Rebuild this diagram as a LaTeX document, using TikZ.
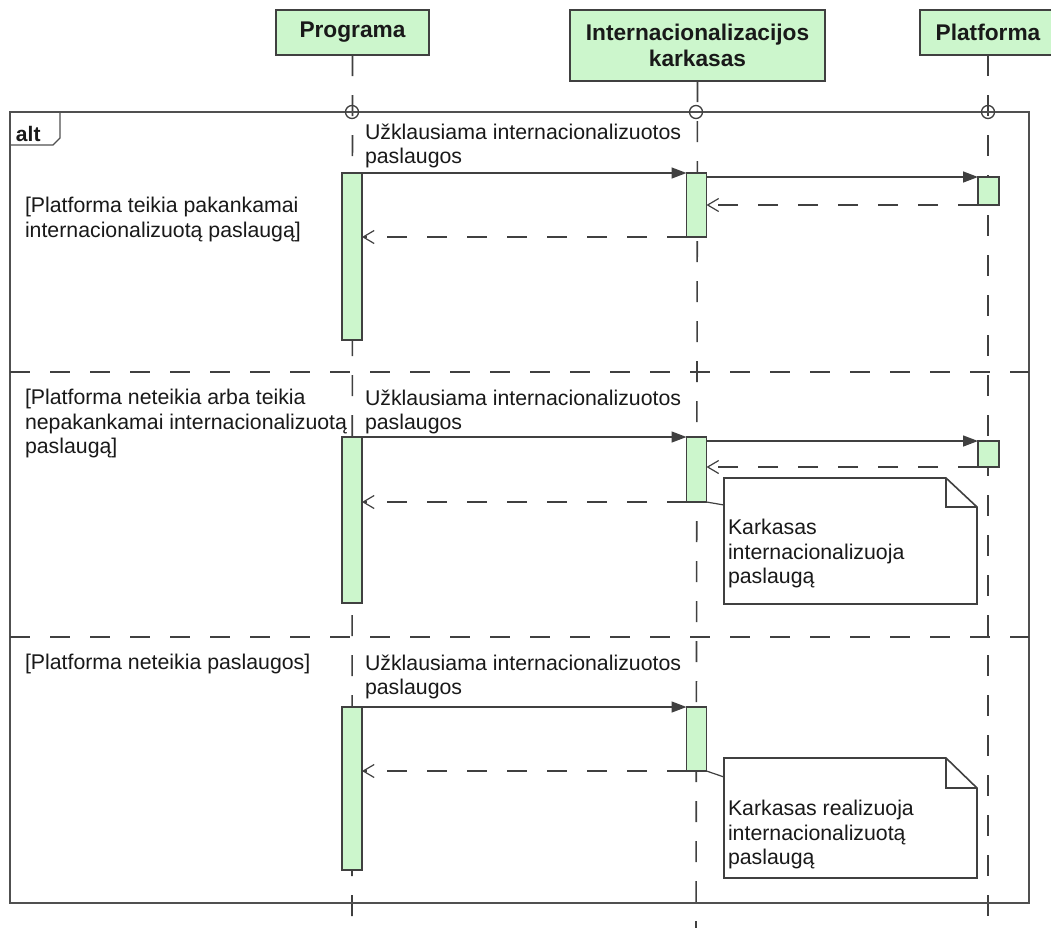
\documentclass[tikz,border=0pt]{standalone}
\usepackage{fontspec}
\setmainfont{Liberation Sans}
\usetikzlibrary{arrows.meta}
\definecolor{actgreen}{RGB}{204,246,204}
\definecolor{linegray}{RGB}{64,64,64}
\definecolor{framegray}{RGB}{80,80,80}
\definecolor{inkgray}{RGB}{25,25,25}

\begin{document}
\begin{tikzpicture}[x=1pt,y=-1pt,
  every node/.style={inner sep=0pt, outer sep=0pt},
  txt/.style={font=\fontsize{21.3}{24.3}\selectfont, align=left, anchor=north west, text=inkgray},
  head/.style={draw=linegray, line width=1.6pt, fill=actgreen,
    font=\fontsize{22.7}{26}\selectfont\bfseries, align=center, text=inkgray},
  act/.style={draw=linegray, line width=1.6pt, fill=actgreen, minimum width=20pt},
  life/.style={draw=linegray, line width=1.6pt, dash pattern=on 21pt off 19pt},
  gate/.style={circle, draw=linegray, line width=1.3pt, minimum size=13pt},
  framebox/.style={draw=framegray, line width=2pt},
  divider/.style={draw=linegray, line width=1.6pt, dash pattern=on 20pt off 20pt},
  call/.style={draw=linegray, line width=1.4pt, -{Triangle[length=15pt,width=11pt]}},
  reply/.style={draw=linegray, line width=1.4pt, dash pattern=on 20pt off 20pt,
    -{Straight Barb[length=11pt,width=13pt,line width=1.2pt]}},
  notebox/.style={draw=linegray, line width=1.6pt, fill=white},
  notelink/.style={draw=linegray, line width=1.2pt},
  noteholder/.style={minimum width=253pt}
]
\useasboundingbox[fill=white] (0,0) rectangle (1051,927);

% participants
\node[head, minimum width=153pt, minimum height=45pt] (prog) at (352.5,32.5) {Programa};
\node[head, minimum width=255pt, minimum height=71pt] (intl) at (697.5,45.5) {Internacionalizacijos\\karkasas};
\node[head, minimum width=136pt, minimum height=45pt] (plat) at (988,32.5) {Platforma};

% lifelines
\coordinate (progEnd) at (352,930);
\coordinate (intlEnd) at (696,930);
\coordinate (platEnd) at (988,930);
\draw[life] (prog.south) -- (progEnd);
\draw[life] (intl.south) -- (intlEnd);
\draw[life] (plat.south) -- (platEnd);

% combined fragment
\node[framebox, minimum width=1019pt, minimum height=791pt] (altframe) at (519.5,507.5) {};
\draw[draw=framegray, line width=1.2pt] (altframe.north west) -- ++(50,0) -- ++(0,26) -- ++(-7,7) -- ++(-43,0);
\node[font=\fontsize{21}{24}\selectfont\bfseries, anchor=base west, text=inkgray] (altlabel) at (16,141) {alt};
\node[gate] (g1) at (352,112) {};
\node[gate] (g2) at (696,112) {};
\node[gate] (g3) at (988,112) {};
\draw[divider] (altframe.west |- 0,372) -- (altframe.east |- 0,372);
\draw[divider] (altframe.west |- 0,637) -- (altframe.east |- 0,637);

% guards
\node[txt] (guard1) at (25,197.5) {[Platforma teikia pakankamai\\internacionalizuotą paslaugą]};
\node[txt] (guard2) at (25,389.5) {[Platforma neteikia arba teikia\\nepakankamai internacionalizuotą\\paslaugą]};
\node[txt] (guard3) at (25,654.5) {[Platforma neteikia paslaugos]};

% operand 1
\node[act, minimum height=167pt] (p1) at (352,256.5) {};
\node[act, minimum height=64pt] (i1) at (696.5,205) {};
\node[act, minimum width=21pt, minimum height=28pt] (f1) at (988.5,191) {};
\node[txt] (m1) at (365,123.5) {Užklausiama internacionalizuotos\\paslaugos};
\draw[call] (p1.north east) -- (i1.north west);
\draw[call] (i1.east |- f1.north) -- (f1.north west);
\draw[reply] (f1.south west) -- (i1.east |- f1.south);
\draw[reply] (i1.south west) -- (p1.east |- i1.south);

% operand 2
\node[act, minimum height=166pt] (p2) at (352,520) {};
\node[act, minimum height=65pt] (i2) at (696.5,469.5) {};
\node[act, minimum width=21pt, minimum height=26pt] (f2) at (988.5,454) {};
\node[txt] (m2) at (365,389.5) {Užklausiama internacionalizuotos\\paslaugos};
\draw[call] (p2.north east) -- (i2.north west);
\draw[call] (i2.east |- f2.north) -- (f2.north west);
\draw[reply] (f2.south west) -- (i2.east |- f2.south);
\draw[reply] (i2.south west) -- (p2.east |- i2.south);

\node[noteholder, minimum height=126pt] (note2) at (850.5,541) {};
\draw[notebox] (note2.north west) -- ([xshift=-31pt]note2.north east) -- ([yshift=-29pt]note2.north east)
  -- (note2.south east) -- (note2.south west) -- cycle;
\draw[notelink] ([xshift=-31pt]note2.north east) -- ([xshift=-31pt,yshift=-29pt]note2.north east) -- ([yshift=-29pt]note2.north east);
\draw[notelink] (i2.south east) -- ([yshift=-27pt]note2.north west);
\node[txt] (n2) at (728,519.5) {Karkasas\\internacionalizuoja\\paslaugą};

% operand 3
\node[act, minimum height=163pt] (p3) at (352,788.5) {};
\node[act, minimum height=64pt] (i3) at (696.5,739) {};
\node[txt] (m3) at (365,654.5) {Užklausiama internacionalizuotos\\paslaugos};
\draw[call] (p3.north east) -- (i3.north west);
\draw[reply] (i3.south west) -- (p3.east |- i3.south);

\node[noteholder, minimum height=120pt] (note3) at (850.5,818) {};
\draw[notebox] (note3.north west) -- ([xshift=-31pt]note3.north east) -- ([yshift=-30pt]note3.north east)
  -- (note3.south east) -- (note3.south west) -- cycle;
\draw[notelink] ([xshift=-31pt]note3.north east) -- ([xshift=-31pt,yshift=-30pt]note3.north east) -- ([yshift=-30pt]note3.north east);
\draw[notelink] (i3.south east) -- ([yshift=-19pt]note3.north west);
\node[txt] (n3) at (728,800.5) {Karkasas realizuoja\\internacionalizuotą\\paslaugą};
\end{tikzpicture}
\end{document}
